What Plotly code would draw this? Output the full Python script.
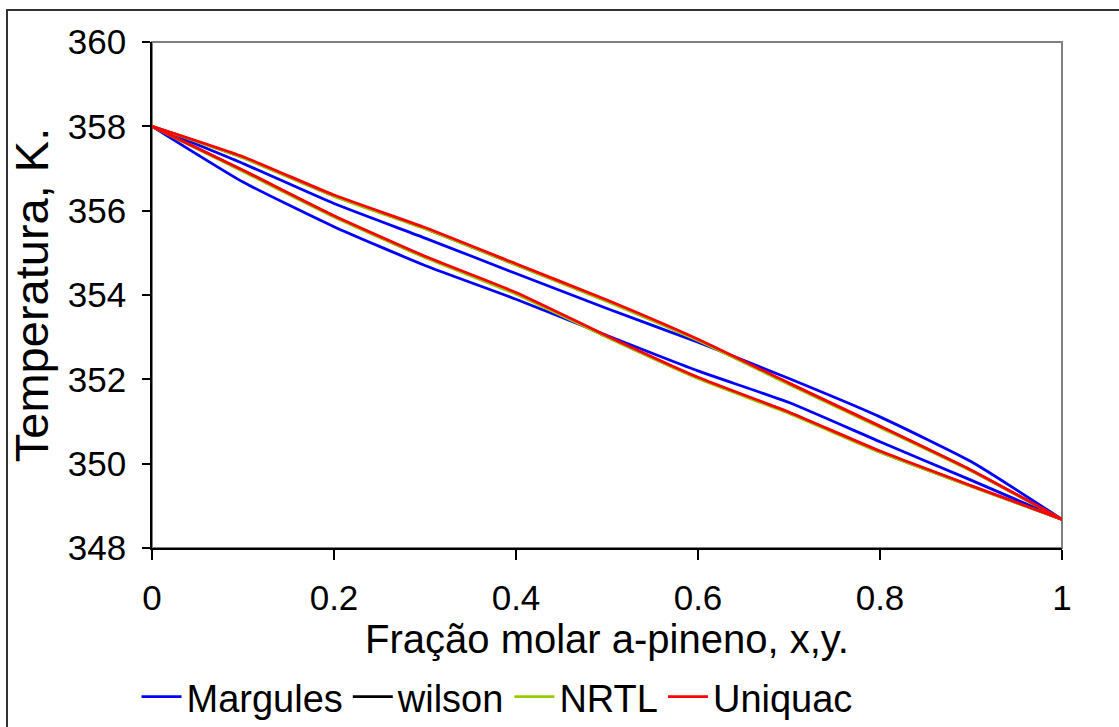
import plotly.graph_objects as go

# Mole fraction grid (x or y)
frac = [0.0, 0.1, 0.2, 0.3, 0.4, 0.5, 0.6, 0.7, 0.8, 0.9, 1.0]

# Temperatures (K): bubble (T-x) and dew (T-y) curves for each model
marg_bubble = [358.0, 356.68, 355.62, 354.70, 353.90, 353.04, 352.20, 351.45, 350.52, 349.61, 348.68]
marg_dew = [358.0, 357.12, 356.17, 355.35, 354.51, 353.68, 352.88, 352.02, 351.11, 350.05, 348.68]
wilson_bubble = [358.0, 356.95, 355.87, 354.90, 354.04, 353.01, 352.03, 351.21, 350.28, 349.47, 348.68]
wilson_dew = [358.0, 357.26, 356.35, 355.58, 354.72, 353.86, 352.93, 351.90, 350.88, 349.84, 348.68]
nrtl_bubble = [358.0, 356.93, 355.85, 354.89, 354.02, 353.00, 352.02, 351.19, 350.27, 349.46, 348.68]
nrtl_dew = [358.0, 357.25, 356.34, 355.57, 354.71, 353.85, 352.92, 351.88, 350.86, 349.83, 348.68]
uniq_bubble = [358.0, 356.96, 355.88, 354.92, 354.06, 353.03, 352.05, 351.22, 350.30, 349.48, 348.68]
uniq_dew = [358.0, 357.28, 356.37, 355.60, 354.74, 353.88, 352.95, 351.91, 350.89, 349.85, 348.68]

series_names = ["Margules", "wilson", "NRTL", "Uniquac"]
series_colors = ["#0000FF", "#000000", "#99CC00", "#FF0000"]
series_data = [
    (marg_bubble, marg_dew),
    (wilson_bubble, wilson_dew),
    (nrtl_bubble, nrtl_dew),
    (uniq_bubble, uniq_dew),
]

x_ticks = [0, 0.2, 0.4, 0.6, 0.8, 1]
x_ticklabels = ["0", "0.2", "0.4", "0.6", "0.8", "1"]
y_ticks = [348, 350, 352, 354, 356, 358, 360]

FONT = "Liberation Sans, Arial, sans-serif"

fig = go.Figure()
for name, color, (bub, dew) in zip(series_names, series_colors, series_data):
    fig.add_trace(go.Scatter(
        x=frac + [None] + frac,
        y=bub + [None] + dew,
        mode="lines",
        name=name,
        line=dict(color=color, width=2.8, shape="spline", smoothing=0.5),
        connectgaps=False,
    ))

L, R, T, B = 152, 1062, 42, 548
W, H = 1119, 727

fig.update_layout(
    width=W, height=H,
    margin=dict(l=L, r=W - R, t=T, b=H - B, pad=0, autoexpand=False),
    paper_bgcolor="white",
    plot_bgcolor="white",
    font=dict(family=FONT, size=36, color="black"),
    showlegend=True,
    legend=dict(
        orientation="h",
        xref="container", yref="container",
        x=497 / W, xanchor="center",
        y=1 - 697 / H, yanchor="middle",
        font=dict(family=FONT, size=38, color="black"),
        itemwidth=40,
        tracegroupgap=0,
        bgcolor="rgba(0,0,0,0)",
    ),
    xaxis=dict(
        range=[0, 1],
        tickvals=x_ticks,
        ticktext=x_ticklabels,
        showgrid=False, zeroline=False, automargin=False,
        showline=True, linecolor="black", linewidth=1.5,
        ticks="outside", ticklen=10, tickcolor="black", tickwidth=1.5,
        ticklabelstandoff=8,
        tickfont=dict(family=FONT, size=35),
        title=dict(text="Fração molar a-pineno, x,y.", font=dict(family=FONT, size=40), standoff=2),
    ),
    yaxis=dict(
        range=[348, 360],
        tickvals=y_ticks,
        showgrid=False, zeroline=False, automargin=False,
        showline=True, linecolor="black", linewidth=1.5,
        ticks="outside", ticklen=8, tickcolor="black", tickwidth=1.5,
        ticklabelstandoff=9,
        tickfont=dict(family=FONT, size=35),
        title=dict(text="Temperatura, K.", font=dict(family=FONT, size=47), standoff=4),
    ),
)

# Plot-area border (grey top and right edges)
fig.add_shape(type="rect", xref="paper", yref="paper", x0=0, x1=1, y0=0, y1=1,
              line=dict(color="#808080", width=2), layer="below")

# Outer chart frame
px2x = lambda p: (p - L) / (R - L)
py2y = lambda p: (B - p) / (B - T)
fig.add_shape(type="rect", xref="paper", yref="paper",
              x0=px2x(7), x1=px2x(1140), y0=py2y(750), y1=py2y(10),
              line=dict(color="#333333", width=2), layer="below")

fig.write_html("out.html")
